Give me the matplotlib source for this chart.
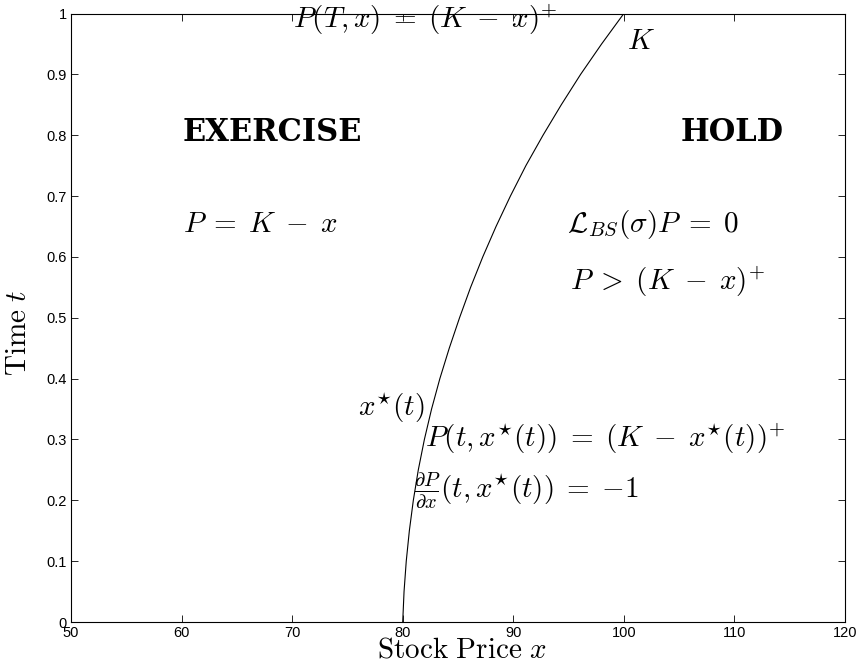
import matplotlib
matplotlib.use("Agg")
import matplotlib.pyplot as plt

plt.rcParams['mathtext.fontset'] = 'cm'
plt.rcParams['font.family'] = ['Liberation Sans', 'DejaVu Sans']

# exercise boundary x*(t)
t_vals = [0.0, 0.05, 0.1, 0.15, 0.2, 0.25, 0.3, 0.35, 0.4, 0.45, 0.5,
          0.55, 0.6, 0.65, 0.7, 0.75, 0.8, 0.85, 0.9, 0.95, 1.0]
x_star = [80.0, 80.12, 80.32, 80.6, 80.96, 81.41, 81.96, 82.61, 83.36, 84.21, 85.14,
          86.14, 87.24, 88.44, 89.74, 91.14, 92.69, 94.34, 96.09, 97.99, 100.0]

x_ticks = [50, 60, 70, 80, 90, 100, 110, 120]
y_ticks = [0, 0.1, 0.2, 0.3, 0.4, 0.5, 0.6, 0.7, 0.8, 0.9, 1]
y_ticklabels = ['0', '0.1', '0.2', '0.3', '0.4', '0.5', '0.6', '0.7', '0.8', '0.9', '1']

# annotations: (x, t, text)
notes = [
    (70.1, 0.99, r'$P(T,x) \;=\; (K \;-\; x)^{+}$'),
    (100.3, 0.955, r'$K$'),
    (60.1, 0.654, r'$P \;=\; K \;-\; x$'),
    (94.85, 0.654, r'$\mathcal{L}_{BS}(\sigma)P \;=\; 0$'),
    (95.1, 0.56, r'$P \;>\; (K \;-\; x)^{+}$'),
    (76.0, 0.352, r'$x^{\star}(t)$'),
    (82.0, 0.302, r'$P(t,x^{\star}(t)) \;=\; (K \;-\; x^{\star}(t))^{+}$'),
    (81.0, 0.215, r'$\frac{\partial P}{\partial x}(t,x^{\star}(t)) \;=\; {-}1$'),
]
regions = [(60.1, 0.805, 'EXERCISE'), (105.1, 0.805, 'HOLD')]

fig = plt.figure(figsize=(8.59, 6.66), dpi=100)
ax = fig.add_axes([71/859, 44/666, 774/859, 608.5/666])

ax.plot(x_star, t_vals, color='black', lw=0.8)

ax.set_xlim(50, 120)
ax.set_ylim(0, 1)
ax.set_xticks(x_ticks)
ax.set_yticks(y_ticks)
ax.set_yticklabels(y_ticklabels)
ax.tick_params(direction='in', top=True, right=True, length=5, width=0.6,
               labelsize=10.5, pad=3)
for s in ax.spines.values():
    s.set_linewidth(0.8)

for x, t, s in notes:
    ax.text(x, t, s, fontsize=21, ha='left', va='center')
for x, t, s in regions:
    ax.text(x, t, s, fontsize=22, ha='left', va='center',
            family='DejaVu Serif', weight='bold')

ax.set_xlabel(r'$\mathrm{Stock\ Price}\ x$', fontsize=21)
ax.xaxis.set_label_coords(0.505, -0.022)
ax.set_ylabel(r'$\mathrm{Time}\ t$', fontsize=21)
ax.yaxis.set_label_coords(-0.051, 0.475)

fig.savefig('out.png', dpi=100)
